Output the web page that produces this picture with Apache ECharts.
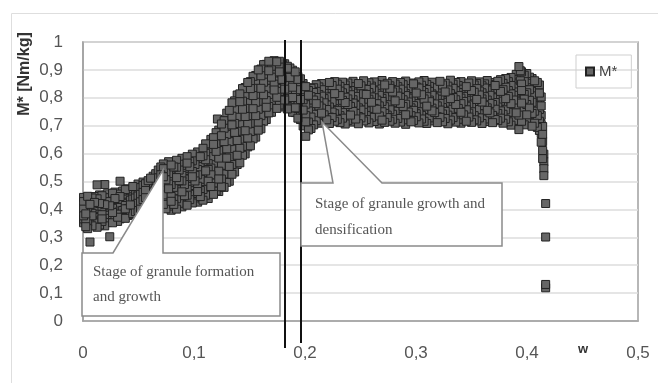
<!DOCTYPE html>
<html>
<head>
<meta charset="utf-8">
<script src="https://cdn.jsdelivr.net/npm/echarts@6/dist/echarts.min.js"></script>
<style>
  html, body { margin: 0; padding: 0; background: #fff; }
  #chart { width: 658px; height: 383px; }
</style>
</head>
<body>
<div id="chart"></div>
<script>
// columns: [w, M*, M*, ...]
const formationStage = [
  [0.0005, 0.352, 0.377, 0.401, 0.428, 0.443, 0.366],
  [0.0025, 0.338, 0.361, 0.392, 0.414, 0.437, 0.384],
  [0.0042, 0.331, 0.355, 0.373, 0.406, 0.426, 0.447],
  [0.0063, 0.283, 0.347, 0.369, 0.394, 0.418, 0.432],
  [0.0081, 0.341, 0.362, 0.386, 0.409, 0.441, 0.377],
  [0.0104, 0.352, 0.371, 0.397, 0.425, 0.446],
  [0.0127, 0.336, 0.358, 0.383, 0.412, 0.438, 0.488],
  [0.0149, 0.344, 0.374, 0.399, 0.421, 0.452],
  [0.0171, 0.357, 0.381, 0.405, 0.433, 0.449, 0.366],
  [0.0196, 0.341, 0.368, 0.392, 0.417, 0.442, 0.489],
  [0.0219, 0.353, 0.379, 0.401, 0.428, 0.456],
  [0.0241, 0.302, 0.361, 0.388, 0.413, 0.437],
  [0.0266, 0.352, 0.376, 0.404, 0.426, 0.458, 0.389],
  [0.0288, 0.361, 0.387, 0.411, 0.439, 0.462],
  [0.0312, 0.357, 0.383, 0.407, 0.431, 0.455, 0.372],
  [0.0334, 0.366, 0.394, 0.417, 0.446, 0.501],
  [0.0358, 0.371, 0.396, 0.422, 0.443, 0.466],
  [0.0381, 0.368, 0.389, 0.414, 0.438, 0.471, 0.402],
  [0.0403, 0.378, 0.403, 0.426, 0.452, 0.474],
  [0.0427, 0.381, 0.407, 0.433, 0.458, 0.416],
  [0.0449, 0.385, 0.411, 0.437, 0.462, 0.482],
  [0.0472, 0.392, 0.418, 0.441, 0.466, 0.429],
  [0.0496, 0.396, 0.422, 0.448, 0.473, 0.491],
  [0.0518, 0.401, 0.427, 0.454, 0.478, 0.439],
  [0.0541, 0.407, 0.435, 0.461, 0.486, 0.498],
  [0.0563, 0.415, 0.442, 0.468, 0.492],
  [0.0587, 0.421, 0.449, 0.476, 0.503, 0.462],
  [0.0609, 0.428, 0.457, 0.484, 0.512],
  [0.0632, 0.437, 0.466, 0.491, 0.519, 0.478],
  [0.0655, 0.446, 0.474, 0.502, 0.528],
  [0.0678, 0.458, 0.486, 0.513, 0.541, 0.497],
  [0.0701, 0.469, 0.497, 0.524, 0.552],
  [0.0724, 0.418, 0.452, 0.488, 0.517, 0.546, 0.563],
  [0.0747, 0.402, 0.437, 0.471, 0.506, 0.535, 0.551]
];

const growthStage = [
  [0.0771, 0.412, 0.431, 0.474, 0.491, 0.528, 0.547, 0.571],
  [0.0794, 0.397, 0.429, 0.446, 0.489, 0.507, 0.544, 0.559],
  [0.0818, 0.418, 0.437, 0.479, 0.498, 0.534, 0.552],
  [0.0843, 0.401, 0.438, 0.457, 0.499, 0.514, 0.551, 0.576],
  [0.0866, 0.422, 0.443, 0.484, 0.503, 0.541, 0.562],
  [0.0891, 0.409, 0.445, 0.463, 0.502, 0.522, 0.558, 0.583],
  [0.0914, 0.428, 0.449, 0.489, 0.509, 0.547, 0.568],
  [0.0938, 0.415, 0.451, 0.472, 0.511, 0.528, 0.566, 0.589],
  [0.0962, 0.435, 0.454, 0.496, 0.514, 0.553, 0.572],
  [0.0985, 0.423, 0.457, 0.478, 0.517, 0.536, 0.574, 0.598],
  [0.1009, 0.441, 0.463, 0.502, 0.522, 0.561, 0.581],
  [0.1033, 0.426, 0.464, 0.483, 0.524, 0.543, 0.582, 0.606],
  [0.1057, 0.446, 0.468, 0.508, 0.529, 0.568, 0.589],
  [0.1081, 0.433, 0.471, 0.491, 0.533, 0.552, 0.592, 0.619],
  [0.1105, 0.451, 0.474, 0.516, 0.538, 0.578, 0.601, 0.635],
  [0.1128, 0.439, 0.478, 0.501, 0.543, 0.564, 0.606],
  [0.1152, 0.456, 0.482, 0.524, 0.548, 0.589, 0.613, 0.651],
  [0.1176, 0.454, 0.495, 0.521, 0.566, 0.589, 0.633, 0.657],
  [0.1199, 0.466, 0.493, 0.538, 0.563, 0.608, 0.635, 0.675],
  [0.1211, 0.724],
  [0.1223, 0.464, 0.509, 0.537, 0.584, 0.611, 0.657, 0.684],
  [0.1247, 0.481, 0.509, 0.558, 0.587, 0.636, 0.664, 0.706],
  [0.1271, 0.479, 0.527, 0.561, 0.612, 0.643, 0.691, 0.718],
  [0.1295, 0.497, 0.531, 0.584, 0.617, 0.669, 0.698, 0.745],
  [0.1318, 0.501, 0.554, 0.589, 0.643, 0.676, 0.727, 0.755],
  [0.1342, 0.526, 0.561, 0.616, 0.651, 0.703, 0.734, 0.782],
  [0.1366, 0.534, 0.588, 0.622, 0.676, 0.708, 0.759, 0.789],
  [0.1389, 0.561, 0.594, 0.647, 0.680, 0.732, 0.763, 0.810],
  [0.1413, 0.567, 0.619, 0.652, 0.704, 0.736, 0.786, 0.814],
  [0.1437, 0.594, 0.626, 0.678, 0.709, 0.759, 0.788, 0.833],
  [0.1461, 0.599, 0.651, 0.682, 0.733, 0.762, 0.811, 0.837],
  [0.1484, 0.624, 0.656, 0.706, 0.736, 0.784, 0.812, 0.855],
  [0.1508, 0.628, 0.679, 0.709, 0.758, 0.786, 0.833, 0.858],
  [0.1532, 0.653, 0.683, 0.732, 0.761, 0.808, 0.834, 0.877],
  [0.1556, 0.659, 0.708, 0.736, 0.784, 0.810, 0.856, 0.880],
  [0.1579, 0.684, 0.712, 0.759, 0.786, 0.832, 0.857, 0.900],
  [0.1603, 0.689, 0.736, 0.763, 0.809, 0.834, 0.879, 0.903],
  [0.1627, 0.716, 0.741, 0.786, 0.811, 0.856, 0.879, 0.919],
  [0.1651, 0.722, 0.766, 0.790, 0.834, 0.857, 0.899, 0.920],
  [0.1674, 0.746, 0.769, 0.812, 0.834, 0.876, 0.897, 0.931],
  [0.1698, 0.748, 0.789, 0.811, 0.853, 0.874, 0.913, 0.928],
  [0.1722, 0.766, 0.787, 0.828, 0.849, 0.889, 0.907, 0.933],
  [0.1746, 0.762, 0.802, 0.823, 0.863, 0.882, 0.919, 0.929],
  [0.1769, 0.774, 0.794, 0.834, 0.854, 0.893, 0.910, 0.931],
  [0.1793, 0.767, 0.806, 0.826, 0.866, 0.884, 0.918, 0.924],
  [0.1817, 0.773, 0.792, 0.831, 0.850, 0.888, 0.903, 0.922],
  [0.1841, 0.760, 0.797, 0.816, 0.854, 0.871, 0.906, 0.913],
  [0.1864, 0.764, 0.782, 0.820, 0.837, 0.873, 0.888, 0.907],
  [0.1888, 0.748, 0.784, 0.801, 0.838, 0.854, 0.889, 0.899],
  [0.1912, 0.747, 0.764, 0.801, 0.817, 0.853, 0.868, 0.893],
  [0.1936, 0.727, 0.762, 0.779, 0.816, 0.831, 0.866, 0.876],
  [0.1959, 0.722, 0.740, 0.777, 0.794, 0.829, 0.844, 0.868],
  [0.1983, 0.699, 0.737, 0.756, 0.793, 0.808, 0.842, 0.851],
  [0.2007, 0.662, 0.714, 0.736, 0.777, 0.796, 0.831, 0.840],
  [0.2031, 0.685, 0.713, 0.753, 0.773, 0.809, 0.826],
  [0.2054, 0.690, 0.731, 0.751, 0.789, 0.804, 0.834]
];

const densificationStage = [
  [0.2078, 0.703, 0.741, 0.768, 0.792, 0.819, 0.836],
  [0.2101, 0.718, 0.734, 0.779, 0.801, 0.823, 0.847],
  [0.2125, 0.709, 0.752, 0.771, 0.788, 0.812, 0.839],
  [0.2149, 0.726, 0.745, 0.763, 0.806, 0.829, 0.851],
  [0.2172, 0.714, 0.739, 0.782, 0.797, 0.816, 0.842],
  [0.2196, 0.721, 0.758, 0.774, 0.803, 0.834, 0.848],
  [0.2220, 0.708, 0.731, 0.767, 0.789, 0.821, 0.855],
  [0.2244, 0.729, 0.749, 0.786, 0.809, 0.827, 0.844],
  [0.2267, 0.716, 0.743, 0.761, 0.794, 0.815, 0.858],
  [0.2291, 0.723, 0.755, 0.778, 0.799, 0.831, 0.849],
  [0.2315, 0.711, 0.736, 0.772, 0.808, 0.824, 0.841],
  [0.2338, 0.727, 0.747, 0.765, 0.791, 0.818, 0.856],
  [0.2362, 0.706, 0.742, 0.783, 0.802, 0.833, 0.846],
  [0.2386, 0.719, 0.761, 0.776, 0.796, 0.822, 0.853],
  [0.2410, 0.731, 0.738, 0.769, 0.811, 0.826, 0.840],
  [0.2433, 0.713, 0.751, 0.781, 0.793, 0.817, 0.859],
  [0.2457, 0.724, 0.744, 0.773, 0.805, 0.829, 0.847],
  [0.2481, 0.707, 0.733, 0.764, 0.798, 0.836, 0.851],
  [0.2504, 0.728, 0.756, 0.785, 0.807, 0.823, 0.843],
  [0.2528, 0.717, 0.748, 0.770, 0.790, 0.814, 0.861],
  [0.2552, 0.722, 0.737, 0.777, 0.812, 0.830, 0.845],
  [0.2576, 0.710, 0.753, 0.766, 0.795, 0.819, 0.854],
  [0.2599, 0.730, 0.746, 0.784, 0.803, 0.835, 0.842],
  [0.2623, 0.715, 0.740, 0.762, 0.800, 0.825, 0.857],
  [0.2647, 0.725, 0.759, 0.779, 0.792, 0.816, 0.848],
  [0.2670, 0.706, 0.735, 0.771, 0.809, 0.832, 0.841],
  [0.2694, 0.720, 0.750, 0.787, 0.798, 0.820, 0.862],
  [0.2718, 0.712, 0.744, 0.768, 0.804, 0.828, 0.846],
  [0.2741, 0.729, 0.738, 0.775, 0.795, 0.813, 0.852],
  [0.2765, 0.716, 0.757, 0.763, 0.810, 0.834, 0.843],
  [0.2789, 0.723, 0.741, 0.782, 0.797, 0.821, 0.858],
  [0.2812, 0.709, 0.752, 0.774, 0.789, 0.827, 0.849],
  [0.2836, 0.726, 0.734, 0.766, 0.806, 0.818, 0.840],
  [0.2860, 0.713, 0.747, 0.780, 0.801, 0.831, 0.855],
  [0.2884, 0.721, 0.760, 0.769, 0.793, 0.824, 0.847],
  [0.2907, 0.705, 0.739, 0.777, 0.808, 0.815, 0.860],
  [0.2931, 0.727, 0.749, 0.785, 0.799, 0.833, 0.844],
  [0.2955, 0.714, 0.736, 0.764, 0.791, 0.822, 0.853],
  [0.2978, 0.719, 0.755, 0.772, 0.807, 0.829, 0.850],
  [0.3002, 0.732, 0.743, 0.779, 0.802, 0.817, 0.839],
  [0.3026, 0.710, 0.750, 0.767, 0.794, 0.835, 0.857],
  [0.3050, 0.724, 0.737, 0.783, 0.811, 0.826, 0.845],
  [0.3073, 0.716, 0.758, 0.775, 0.796, 0.819, 0.862],
  [0.3097, 0.708, 0.745, 0.770, 0.804, 0.830, 0.848],
  [0.3121, 0.728, 0.740, 0.786, 0.792, 0.823, 0.841],
  [0.3144, 0.717, 0.753, 0.763, 0.809, 0.814, 0.856],
  [0.3168, 0.722, 0.747, 0.778, 0.800, 0.836, 0.851],
  [0.3192, 0.711, 0.732, 0.771, 0.795, 0.827, 0.843],
  [0.3216, 0.730, 0.756, 0.780, 0.806, 0.818, 0.859],
  [0.3239, 0.714, 0.742, 0.765, 0.790, 0.832, 0.846],
  [0.3263, 0.726, 0.751, 0.784, 0.803, 0.821, 0.852],
  [0.3287, 0.707, 0.738, 0.773, 0.810, 0.828, 0.842],
  [0.3310, 0.720, 0.759, 0.768, 0.797, 0.815, 0.863],
  [0.3334, 0.729, 0.744, 0.781, 0.801, 0.834, 0.849],
  [0.3358, 0.713, 0.735, 0.776, 0.793, 0.825, 0.855],
  [0.3381, 0.723, 0.754, 0.762, 0.808, 0.819, 0.844],
  [0.3405, 0.709, 0.748, 0.779, 0.799, 0.831, 0.858],
  [0.3429, 0.725, 0.739, 0.787, 0.805, 0.822, 0.847],
  [0.3453, 0.716, 0.757, 0.770, 0.791, 0.816, 0.840],
  [0.3476, 0.731, 0.745, 0.774, 0.807, 0.837, 0.853],
  [0.3500, 0.712, 0.750, 0.766, 0.798, 0.826, 0.861],
  [0.3524, 0.721, 0.736, 0.782, 0.802, 0.820, 0.846],
  [0.3547, 0.717, 0.758, 0.777, 0.794, 0.833, 0.851],
  [0.3571, 0.728, 0.743, 0.769, 0.810, 0.824, 0.857],
  [0.3595, 0.708, 0.752, 0.785, 0.796, 0.818, 0.843],
  [0.3618, 0.724, 0.740, 0.772, 0.804, 0.835, 0.850],
  [0.3642, 0.715, 0.755, 0.764, 0.792, 0.828, 0.862],
  [0.3666, 0.730, 0.746, 0.780, 0.809, 0.821, 0.848],
  [0.3690, 0.711, 0.737, 0.776, 0.800, 0.832, 0.855],
  [0.3713, 0.722, 0.759, 0.783, 0.795, 0.817, 0.844],
  [0.3737, 0.718, 0.744, 0.767, 0.806, 0.836, 0.859],
  [0.3761, 0.727, 0.753, 0.788, 0.799, 0.823, 0.865],
  [0.3784, 0.709, 0.741, 0.775, 0.812, 0.829, 0.852],
  [0.3808, 0.723, 0.757, 0.770, 0.797, 0.838, 0.869],
  [0.3832, 0.714, 0.748, 0.786, 0.805, 0.826, 0.858],
  [0.3856, 0.702, 0.735, 0.779, 0.814, 0.844, 0.873],
  [0.3879, 0.719, 0.761, 0.792, 0.809, 0.839, 0.866],
  [0.3903, 0.707, 0.746, 0.774, 0.821, 0.853, 0.884],
  [0.3927, 0.686, 0.738, 0.788, 0.803, 0.842, 0.876, 0.912],
  [0.3940, 0.897, 0.861],
  [0.3951, 0.716, 0.757, 0.781, 0.826, 0.849, 0.893],
  [0.3975, 0.703, 0.749, 0.795, 0.812, 0.858, 0.881],
  [0.3998, 0.721, 0.739, 0.776, 0.818, 0.836, 0.887],
  [0.4022, 0.712, 0.763, 0.791, 0.829, 0.852, 0.874],
  [0.4046, 0.698, 0.744, 0.784, 0.807, 0.846, 0.869],
  [0.4069, 0.709, 0.752, 0.772, 0.823, 0.838, 0.861],
  [0.4093, 0.694, 0.736, 0.778, 0.801, 0.831, 0.855]
];

const dropStage = [
  [0.4112, 0.683, 0.716, 0.758, 0.792, 0.817, 0.846],
  [0.4128, 0.641, 0.672, 0.704, 0.737, 0.771, 0.803],
  [0.4141, 0.582, 0.611, 0.643, 0.669, 0.697],
  [0.4152, 0.521, 0.546, 0.571, 0.598],
  [0.4168, 0.421, 0.301, 0.131, 0.119]
];

function toPoints(cols) {
  const out = [];
  cols.forEach(c => {
    for (let i = 1; i < c.length; i++) out.push([c[0], c[i]]);
  });
  return out;
}

const allPoints = [].concat(
  toPoints(formationStage),
  toPoints(growthStage),
  toPoints(densificationStage),
  toPoints(dropStage)
);

// fixed drawing order so that squares overlap like a measured series, not in columns
const points = allPoints
  .map((p, i) => ({ p, k: (i * 7919) % 1013 }))
  .sort((a, b) => a.k - b.k)
  .map(o => o.p);

const commaLabel = v => String(+v.toFixed(1)).replace('.', ',');

const chart = echarts.init(document.getElementById('chart'), null, { renderer: 'canvas' });

const boxStyle = { fill: '#fff', stroke: '#8a8a8a', lineWidth: 1.5 };
const noteFont = '15px "Liberation Serif", "DejaVu Serif", serif';

chart.setOption({
  animation: false,
  backgroundColor: '#fff',
  grid: {
    left: 83, top: 42, right: 20, bottom: 62,
    show: true, borderColor: '#a0a0a0', borderWidth: 1.5, backgroundColor: 'transparent'
  },
  legend: {
    left: 576, top: 55,
    padding: [9, 14, 9, 9],
    borderColor: '#cfcfcf', borderWidth: 1,
    itemWidth: 8, itemHeight: 8, itemGap: 5,
    textStyle: { fontFamily: '"Liberation Sans", Arial, sans-serif', fontSize: 15, color: '#444' },
    data: [{ name: 'M*', icon: 'rect' }]
  },
  xAxis: {
    type: 'value', min: 0, max: 0.5, interval: 0.1,
    axisLine: { show: true, lineStyle: { color: '#a0a0a0', width: 1.5 } },
    axisTick: { show: false },
    splitLine: { show: false },
    axisLabel: {
      margin: 24, fontSize: 17, color: '#555',
      fontFamily: '"Liberation Sans", Arial, sans-serif',
      formatter: commaLabel
    }
  },
  yAxis: {
    type: 'value', min: 0, max: 1, interval: 0.1,
    axisLine: { show: true, lineStyle: { color: '#a0a0a0', width: 1.5 } },
    axisTick: { show: false },
    splitLine: { show: true, lineStyle: { color: '#dcdcdc', width: 1.5 } },
    axisLabel: {
      margin: 20, fontSize: 17, color: '#555',
      fontFamily: '"Liberation Sans", Arial, sans-serif',
      formatter: commaLabel
    }
  },
  series: [{
    name: 'M*',
    type: 'scatter',
    symbol: 'rect',
    symbolSize: 8,
    itemStyle: { color: '#666', borderColor: '#222', borderWidth: 1, opacity: 1 },
    data: points
  }],
  graphic: [
    // outer frame
    { type: 'rect', z: 1, shape: { x: 11.5, y: 13.5, width: 660, height: 380 },
      style: { fill: 'none', stroke: '#dedede', lineWidth: 1 } },
    // y axis title
    { type: 'text', z: 100, x: 25, y: 74, rotation: Math.PI / 2,
      style: { text: 'M* [Nm/kg]', font: 'bold 16px "Liberation Sans", Arial, sans-serif',
        fill: '#333', align: 'center', verticalAlign: 'middle' } },
    // x axis name
    { type: 'text', z: 100, x: 583, y: 349,
      style: { text: 'w', font: 'bold 13px "Liberation Sans", Arial, sans-serif',
        fill: '#333', align: 'center', verticalAlign: 'middle' } },
    // stage boundaries
    { type: 'line', z: 100, shape: { x1: 285, y1: 40, x2: 285, y2: 348 },
      style: { stroke: '#111', lineWidth: 2 } },
    { type: 'line', z: 100, shape: { x1: 301, y1: 40, x2: 301, y2: 343 },
      style: { stroke: '#111', lineWidth: 2 } },
    // callout 1
    { type: 'polygon', z: 101,
      shape: { points: [[82, 253], [113, 253], [163, 170], [163, 253], [280, 253], [280, 316], [82, 316]] },
      style: boxStyle },
    { type: 'text', z: 102, x: 93, y: 272,
      style: { text: 'Stage of granule formation', font: noteFont, fill: '#555', verticalAlign: 'middle' } },
    { type: 'text', z: 102, x: 93, y: 297,
      style: { text: 'and growth', font: noteFont, fill: '#555', verticalAlign: 'middle' } },
    // callout 2
    { type: 'polygon', z: 101,
      shape: { points: [[301, 183], [333, 183], [322, 122], [382, 183], [502, 183], [502, 246], [301, 246]] },
      style: boxStyle },
    { type: 'text', z: 102, x: 315, y: 204,
      style: { text: 'Stage of granule growth and', font: noteFont, fill: '#555', verticalAlign: 'middle' } },
    { type: 'text', z: 102, x: 315, y: 230,
      style: { text: 'densification', font: noteFont, fill: '#555', verticalAlign: 'middle' } }
  ]
});
</script>
</body>
</html>
